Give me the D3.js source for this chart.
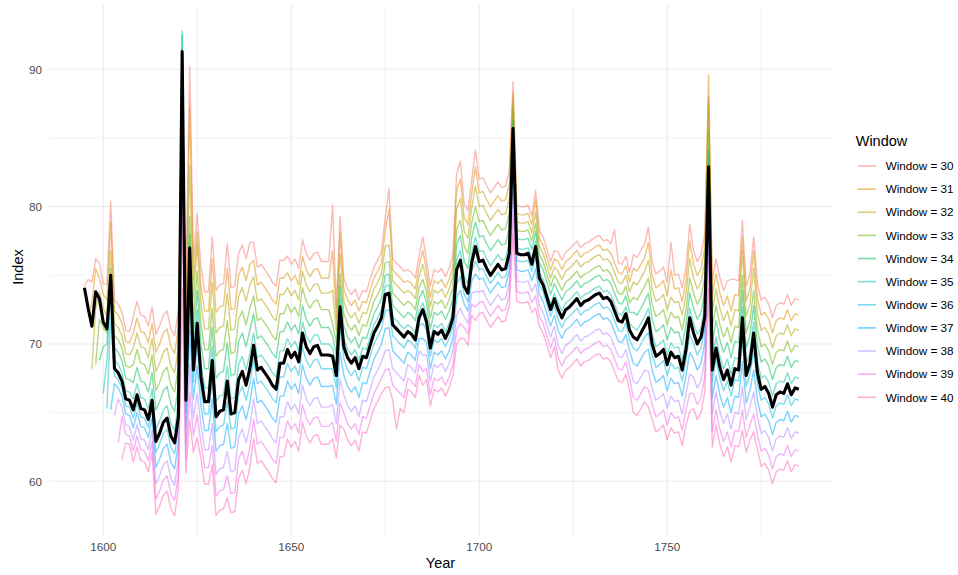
<!DOCTYPE html>
<html lang="en">
<head>
<meta charset="utf-8">
<title>Index by window</title>
<script src="https://cdn.jsdelivr.net/npm/d3@7"></script>
<style>
  body { margin: 0; background: #fff; }
  text { font-family: "Liberation Sans", Arial, Helvetica, sans-serif; }
  .grid-major { stroke: #ebebeb; stroke-width: 1.1px; }
  .grid-minor { stroke: #ebebeb; stroke-width: 0.6px; }
  .tick-label { fill: #4d4d4d; font-size: 11.7px; }
  .axis-title { fill: #000; font-size: 14.5px; }
</style>
</head>
<body>
<svg id="chart" width="958" height="575"></svg>
<script>
// ---- data ----
var windows = [30, 31, 32, 33, 34, 35, 36, 37, 38, 39, 40];
var startYears = [1595, 1596, 1597, 1598, 1599, 1600, 1601, 1602, 1603, 1604, 1605];
var windowColors = ["#F8766D", "#DB8E00", "#AEA200", "#64B200", "#00BD5C", "#00C1A7",
                    "#00BADE", "#00A6FF", "#B385FF", "#EF67EB", "#FF63B6"];

var xMajorTicks = [1600, 1650, 1700, 1750];
var xMinorTicks = [1625, 1675, 1725, 1775];
var yMajorTicks = [60, 70, 80, 90];
var yMinorTicks = [65, 75, 85];

// black line, 1595-1785
var overallStart = 1595;
var overall = [74.1,72.6,71.3,73.8,73.3,
  71.6,71.1,75.0,68.2,67.9,67.3,66.0,65.9,65.2,66.3,
  65.3,65.2,64.5,65.9,62.9,63.5,64.3,64.6,63.3,62.8,
  64.7,91.3,65.9,77.0,68.1,71.5,67.6,65.8,65.8,68.8,
  64.7,65.1,65.2,67.3,64.9,65.0,67.4,68.0,67.0,68.2,
  69.9,68.1,68.3,67.9,67.5,67.0,66.7,68.6,68.6,69.6,
  69.0,69.4,68.7,70.8,69.8,69.3,69.8,69.9,69.2,69.2,
  69.2,69.1,67.7,72.7,69.8,69.0,68.6,69.0,68.2,69.1,
  69.0,69.9,70.8,71.3,71.9,73.6,73.7,71.4,71.1,70.8,
  70.5,70.9,70.7,70.3,71.9,72.5,71.6,69.7,70.9,70.7,
  71.0,70.4,71.0,71.9,75.4,76.1,74.2,73.7,75.9,77.1,
  76.0,76.1,75.5,75.0,75.4,75.8,75.4,75.5,76.6,85.7,
  76.6,76.5,76.5,76.6,75.8,77.1,74.8,74.3,73.4,72.5,
  73.3,72.5,71.9,72.5,72.7,73.0,73.3,72.8,73.1,73.2,
  73.4,73.6,73.7,73.3,73.4,73.1,72.4,71.7,71.6,72.2,
  71.0,70.5,70.3,70.8,71.3,71.9,70.0,69.1,69.3,69.6,
  68.5,69.4,69.0,69.1,68.1,69.6,71.9,70.8,70.0,70.5,
  72.0,82.9,68.1,69.7,68.3,67.4,68.1,67.0,68.2,68.1,
  71.9,67.7,68.6,70.8,67.9,66.7,66.9,66.4,65.4,66.3,
  66.5,66.4,67.1,66.3,66.8,66.7];

var w30 = [74.2,74.7,74.5,76.2,75.9,
  74.4,74.3,80.4,73.2,72.9,72.3,71.0,70.9,72.0,73.1,
  72.1,72.0,71.3,72.7,70.7,71.3,72.1,72.4,71.1,70.6,
  72.5,86.0,73.7,90.2,76.1,79.5,75.6,73.8,73.8,77.8,
  73.9,74.3,74.4,77.3,74.1,74.2,76.6,77.2,76.2,77.4,
  77.4,75.6,75.8,75.4,75.0,74.5,74.2,76.1,76.1,76.4,
  75.8,76.2,75.5,77.6,76.6,76.1,76.6,76.7,76.0,76.0,
  76.0,80.1,72.7,79.3,74.8,74.0,73.6,74.0,73.2,73.9,
  73.8,74.7,75.6,76.1,76.7,79.2,81.3,76.2,75.9,75.6,
  75.3,75.4,75.2,74.8,76.4,77.8,76.1,74.2,75.4,75.2,
  75.5,74.9,75.5,76.4,82.4,83.3,80.2,79.7,81.9,84.1,
  82.0,82.1,81.5,81.0,81.4,81.8,81.4,81.5,82.6,89.1,
  80.1,80.0,80.0,80.1,79.3,81.2,78.3,77.8,76.9,76.0,
  76.8,76.7,76.1,76.7,76.9,77.2,77.5,77.0,77.3,77.4,
  77.6,77.8,77.9,77.5,77.6,77.3,78.3,75.9,75.8,76.4,
  75.2,76.5,76.3,76.8,77.3,78.5,76.0,75.1,75.3,75.6,
  74.5,77.4,75.0,75.1,74.1,75.6,78.7,76.8,76.0,76.5,
  78.0,88.0,74.6,76.2,74.8,73.9,74.6,74.7,74.7,74.6,
  79.0,74.2,75.1,77.8,74.4,73.2,73.4,72.9,71.9,72.8,
  73.0,72.9,73.6,72.8,73.3,73.2];

var w31 = [72.0,73.0,75.5,74.8,
  73.6,73.2,78.9,72.4,72.1,71.5,70.2,70.1,70.8,71.9,
  70.9,70.8,70.1,71.5,69.4,70.0,70.8,71.1,69.8,69.3,
  71.2,88.0,72.4,87.3,74.7,78.2,74.2,72.4,72.4,76.2,
  72.3,72.7,72.8,75.5,72.5,72.6,75.0,75.6,74.6,75.8,
  76.1,74.3,74.5,74.1,73.7,73.2,72.9,74.8,74.8,75.2,
  74.6,75.0,74.3,76.4,75.4,74.9,75.4,75.5,74.8,74.8,
  74.8,76.8,71.9,78.1,74.0,73.2,72.8,73.2,72.4,73.1,
  73.0,73.9,74.8,75.3,75.9,78.2,79.8,75.4,75.1,74.8,
  74.5,74.6,74.4,74.0,75.6,76.8,75.3,73.4,74.6,74.4,
  74.7,74.1,74.7,75.6,81.2,82.0,79.2,78.7,80.9,82.9,
  81.0,81.1,80.5,80.0,80.4,80.8,80.4,80.5,81.6,88.3,
  79.5,79.4,79.4,79.5,78.7,80.5,77.7,77.2,76.3,75.4,
  76.2,76.0,75.4,76.0,76.2,76.5,76.8,76.3,76.6,76.7,
  76.9,77.1,77.2,76.8,76.9,76.6,75.9,75.2,75.1,75.7,
  74.5,75.5,75.3,75.8,76.3,77.4,75.0,74.1,74.3,74.6,
  73.5,75.4,74.0,74.1,73.1,74.6,77.5,75.8,75.0,75.5,
  77.0,89.6,73.5,75.1,73.7,72.8,73.5,72.4,73.6,73.5,
  77.8,73.1,74.0,76.8,73.3,72.1,72.3,71.8,70.8,71.7,
  71.9,71.8,72.5,71.7,72.2,72.1];

var w32 = [68.2,72.6,73.8,
  72.6,72.0,76.8,71.5,71.2,70.6,69.3,69.2,69.7,70.8,
  69.8,69.7,69.0,70.4,68.0,68.6,69.4,69.7,68.4,67.9,
  69.8,90.0,71.0,83.0,73.4,77.3,72.9,71.1,71.1,74.5,
  70.8,71.2,71.3,73.7,71.0,71.1,73.5,74.1,73.1,74.3,
  74.9,73.1,73.3,72.9,72.5,72.0,71.7,73.6,73.6,74.1,
  73.5,73.9,73.2,75.3,74.3,73.8,74.3,74.4,73.7,73.7,
  73.7,73.9,71.0,76.6,73.1,72.3,71.9,72.3,71.5,72.3,
  72.2,73.1,74.0,74.5,75.1,77.1,77.2,74.6,74.3,74.0,
  73.7,73.9,73.7,73.3,74.9,75.8,74.6,72.7,73.9,73.7,
  74.0,73.4,74.0,74.9,79.8,80.6,78.2,77.7,79.9,81.5,
  80.0,80.1,79.5,79.0,79.4,79.8,79.4,79.5,80.6,87.8,
  78.9,78.8,78.8,78.9,78.1,79.6,77.1,76.6,75.7,74.8,
  75.6,75.3,74.7,75.3,75.5,75.8,76.1,75.6,75.9,76.0,
  76.2,76.4,76.5,76.1,76.2,75.9,75.2,74.5,74.4,75.0,
  73.8,74.5,74.3,74.8,75.3,76.1,74.0,73.1,73.3,73.6,
  72.5,73.4,73.0,73.1,72.1,73.6,76.2,74.8,74.0,74.5,
  76.0,87.5,72.4,74.0,72.6,71.7,72.4,71.3,72.5,72.4,
  76.8,72.0,72.9,75.5,72.2,71.0,71.2,70.7,69.7,70.6,
  70.8,70.7,71.4,70.6,71.1,71.0];

var w33 = [68.5,71.8,
  71.2,70.8,75.5,70.6,70.3,69.7,68.4,68.3,68.5,69.6,
  68.6,68.5,67.8,69.2,66.6,67.2,68.0,68.3,67.0,66.5,
  68.4,91.5,69.6,79.3,71.9,75.3,71.4,69.6,69.6,72.6,
  69.1,69.5,69.6,71.7,69.3,69.4,71.8,72.4,71.4,72.6,
  73.5,71.7,71.9,71.5,71.1,70.6,70.3,72.2,72.2,72.9,
  72.3,72.7,72.0,74.1,73.1,72.6,73.1,73.2,72.5,72.5,
  72.5,71.5,70.1,75.1,72.2,71.4,71.0,71.4,70.6,71.4,
  71.3,72.2,73.1,73.6,74.2,75.9,76.0,73.7,73.4,73.1,
  72.8,73.1,72.9,72.5,74.1,74.7,73.8,71.9,73.1,72.9,
  73.2,72.6,73.2,74.1,78.3,79.0,77.1,76.6,78.8,80.0,
  78.9,79.0,78.4,77.9,78.3,78.7,78.3,78.4,79.5,87.0,
  78.3,78.2,78.2,78.3,77.5,78.8,76.5,76.0,75.1,74.2,
  75.0,74.5,73.9,74.5,74.7,75.0,75.3,74.8,75.1,75.2,
  75.4,75.6,75.7,75.3,75.4,75.1,74.4,73.7,73.6,74.2,
  73.0,73.4,73.2,73.7,74.2,74.8,72.9,72.0,72.2,72.5,
  71.4,72.3,71.9,72.0,71.0,72.5,74.8,73.7,72.9,73.4,
  74.9,85.5,71.2,72.8,71.4,70.5,71.2,70.1,71.3,71.2,
  75.0,70.8,71.7,73.9,71.0,69.8,70.0,69.5,68.5,69.4,
  69.6,69.5,70.2,69.4,69.9,69.8];

var w34 = [68.8,
  69.8,70.0,74.8,69.7,69.4,68.8,67.5,67.4,67.2,68.3,
  67.3,67.2,66.5,67.9,65.2,65.8,66.6,66.9,65.6,65.1,
  67.0,92.5,68.2,78.0,70.5,73.9,70.0,68.2,68.2,71.2,
  67.5,67.9,68.0,70.1,67.7,67.8,70.2,70.8,69.8,71.0,
  72.2,70.4,70.6,70.2,69.8,69.3,69.0,70.9,70.9,71.6,
  71.0,71.4,70.7,72.8,71.8,71.3,71.8,71.9,71.2,71.2,
  71.2,70.6,69.2,74.2,71.3,70.5,70.1,70.5,69.7,70.5,
  70.4,71.3,72.2,72.7,73.3,75.0,75.1,72.8,72.5,72.2,
  71.9,72.3,72.1,71.7,73.3,73.9,73.0,71.1,72.3,72.1,
  72.4,71.8,72.4,73.3,77.2,77.9,76.0,75.5,77.7,78.9,
  77.8,77.9,77.3,76.8,77.2,77.6,77.2,77.3,78.4,86.3,
  77.7,77.6,77.6,77.7,76.9,78.2,75.9,75.4,74.5,73.6,
  74.4,73.8,73.2,73.8,74.0,74.3,74.6,74.1,74.4,74.5,
  74.7,74.9,75.0,74.6,74.7,74.4,73.7,73.0,72.9,73.5,
  72.3,72.3,72.1,72.6,73.1,73.7,71.8,70.9,71.1,71.4,
  70.3,71.2,70.8,70.9,69.9,71.4,73.7,72.6,71.8,72.3,
  73.8,84.1,70.1,71.7,70.3,69.4,70.1,69.0,70.2,70.1,
  73.9,69.7,70.6,72.8,69.9,68.7,68.9,68.4,67.4,68.3,
  68.5,68.4,69.1,68.3,68.8,68.7];

var w35 = [66.4,68.8,73.8,68.8,68.5,67.9,66.6,66.5,66.0,67.1,
  66.1,66.0,65.3,66.7,63.8,64.4,65.2,65.5,64.2,63.7,
  65.6,92.8,66.8,76.5,69.1,72.5,68.6,66.8,66.8,69.8,
  65.8,66.2,66.3,68.4,66.0,66.1,68.5,69.1,68.1,69.3,
  70.8,69.0,69.2,68.8,68.4,67.9,67.6,69.5,69.5,70.4,
  69.8,70.2,69.5,71.6,70.6,70.1,70.6,70.7,70.0,70.0,
  70.0,69.7,68.3,73.3,70.4,69.6,69.2,69.6,68.8,69.7,
  69.6,70.5,71.4,71.9,72.5,74.2,74.3,72.0,71.7,71.4,
  71.1,71.4,71.2,70.8,72.4,73.0,72.1,70.2,71.4,71.2,
  71.5,70.9,71.5,72.4,76.1,76.8,74.9,74.4,76.6,77.8,
  76.7,76.8,76.2,75.7,76.1,76.5,76.1,76.2,77.3,85.8,
  77.0,76.9,76.9,77.0,76.2,77.5,75.2,74.7,73.8,72.9,
  73.7,73.0,72.4,73.0,73.2,73.5,73.8,73.3,73.6,73.7,
  73.9,74.1,74.2,73.8,73.9,73.6,72.9,72.2,72.1,72.7,
  71.5,71.2,71.0,71.5,72.0,72.6,70.7,69.8,70.0,70.3,
  69.2,70.1,69.7,69.8,68.8,70.3,72.6,71.5,70.7,71.2,
  72.7,83.5,68.9,70.5,69.1,68.2,68.9,67.8,69.0,68.9,
  72.7,68.5,69.4,71.6,68.7,67.5,67.7,67.2,66.2,67.1,
  67.3,67.2,67.9,67.1,67.6,67.5];

var w36 = [65.3,72.0,67.7,67.4,66.8,65.5,65.4,64.6,65.7,
  64.7,64.6,63.9,65.3,62.1,62.7,63.5,63.8,62.5,62.0,
  63.9,90.5,65.1,73.5,67.2,69.9,66.7,64.9,64.9,67.4,
  63.6,64.0,64.1,65.8,63.8,63.9,66.3,66.9,65.9,67.1,
  68.9,67.1,67.3,66.9,66.5,66.0,65.7,67.6,67.6,68.6,
  68.0,68.4,67.7,69.8,68.8,68.3,68.8,68.9,68.2,68.2,
  68.2,68.2,66.8,71.0,68.9,68.1,67.7,68.1,67.3,68.3,
  68.2,69.1,70.0,70.5,71.1,72.4,72.5,70.6,70.3,70.0,
  69.7,70.3,70.1,69.7,71.3,71.5,71.0,69.1,70.3,70.1,
  70.4,69.8,70.4,71.3,74.3,74.9,73.6,73.1,75.3,76.0,
  75.4,75.5,74.9,74.4,74.8,75.2,74.8,74.9,76.0,84.0,
  76.1,76.0,76.0,76.1,75.3,76.3,74.3,73.8,72.9,72.0,
  72.8,71.8,71.2,71.8,72.0,72.3,72.6,72.1,72.4,72.5,
  72.7,72.9,73.0,72.6,72.7,72.4,71.7,71.0,70.9,71.5,
  70.3,69.7,69.5,70.0,70.5,70.8,69.2,68.3,68.5,68.8,
  67.7,68.6,68.2,68.3,67.3,68.8,70.7,70.0,69.2,69.7,
  71.2,81.5,67.3,68.9,67.5,66.6,67.3,66.2,67.4,67.3,
  70.3,66.9,67.8,69.5,67.1,65.9,66.1,65.6,64.6,65.5,
  65.7,65.6,66.3,65.5,66.0,65.9];

var w37 = [65.2,67.1,66.8,66.2,64.9,64.8,63.9,65.0,
  64.0,63.9,63.2,64.6,61.0,61.6,62.4,62.7,61.4,60.9,
  62.8,88.5,64.0,71.0,66.0,68.4,65.5,63.7,63.7,66.0,
  62.2,62.6,62.7,64.2,62.4,62.5,64.9,65.5,64.5,65.7,
  67.5,65.7,65.9,65.5,65.1,64.6,64.3,66.2,66.2,67.3,
  66.7,67.1,66.4,68.5,67.5,67.0,67.5,67.6,66.9,66.9,
  66.9,67.0,65.6,69.4,67.7,66.9,66.5,66.9,66.1,67.2,
  67.1,68.0,68.9,69.4,70.0,71.1,71.2,69.5,69.2,68.9,
  68.6,69.4,69.2,68.8,70.4,70.4,70.1,68.2,69.4,69.2,
  69.5,68.9,69.5,70.4,73.4,73.9,72.9,72.4,74.6,75.1,
  74.7,74.8,74.2,73.7,74.1,74.5,74.1,74.2,75.3,82.5,
  75.4,75.3,75.3,75.4,74.6,75.5,73.6,73.1,72.2,71.3,
  72.1,71.0,70.4,71.0,71.2,71.5,71.8,71.3,71.6,71.7,
  71.9,72.1,72.2,71.8,71.9,71.6,70.9,70.2,70.1,70.7,
  69.5,68.6,68.4,68.9,69.4,69.6,68.1,67.2,67.4,67.7,
  66.6,67.5,67.1,67.2,66.2,67.7,69.4,68.9,68.1,68.6,
  70.1,80.0,66.1,67.7,66.3,65.4,66.1,65.0,66.2,66.1,
  68.7,65.7,66.6,68.1,65.9,64.7,64.9,64.4,63.4,64.3,
  64.5,64.4,65.1,64.3,64.8,64.7];

var w38 = [64.8,66.0,65.4,64.1,64.0,63.0,64.1,
  63.1,63.0,62.3,63.7,59.8,60.4,61.2,61.5,60.2,59.7,
  61.6,85.0,62.8,68.5,64.6,66.4,64.1,62.3,62.3,64.2,
  60.5,60.9,61.0,62.2,60.7,60.8,63.2,63.8,62.8,64.0,
  66.0,64.2,64.4,64.0,63.6,63.1,62.8,64.7,64.7,65.8,
  65.2,65.6,64.9,67.0,66.0,65.5,66.0,66.1,65.4,65.4,
  65.4,65.6,64.2,67.4,66.3,65.5,65.1,65.5,64.7,65.9,
  65.8,66.7,67.6,68.1,68.7,69.5,69.6,68.2,67.9,67.6,
  67.3,68.5,68.3,67.9,69.5,69.2,69.2,67.3,68.5,68.3,
  68.6,68.0,68.6,69.5,72.1,72.6,72.0,71.5,73.7,73.8,
  73.8,73.9,73.3,72.8,73.2,73.6,73.2,73.3,74.4,81.0,
  74.6,74.5,74.5,74.6,73.8,74.4,72.8,72.3,71.4,70.5,
  71.3,69.9,69.3,69.9,70.1,70.4,70.7,70.2,70.5,70.6,
  70.8,71.0,71.1,70.7,70.8,70.5,69.8,69.1,69.0,69.6,
  68.4,67.3,67.1,67.6,68.1,68.0,66.8,65.9,66.1,66.4,
  65.3,66.2,65.8,65.9,64.9,66.4,67.8,67.6,66.8,67.3,
  68.8,78.0,64.9,66.5,65.1,64.2,64.9,63.8,65.0,64.9,
  66.9,64.5,65.4,66.5,64.7,63.5,63.7,63.2,62.2,63.1,
  63.3,63.2,63.9,63.1,63.6,63.5];

var w39 = [62.8,64.7,63.4,63.3,62.2,63.3,
  62.3,62.2,61.5,62.9,58.7,59.3,60.1,60.4,59.1,58.6,
  60.5,80.0,61.7,66.5,63.3,64.8,62.8,61.0,61.0,62.6,
  58.9,59.3,59.4,60.4,59.1,59.2,61.6,62.2,61.2,62.4,
  64.5,62.7,62.9,62.5,62.1,61.6,61.3,63.2,63.2,64.4,
  63.8,64.2,63.5,65.6,64.6,64.1,64.6,64.7,64.0,64.0,
  64.0,64.3,62.9,65.7,65.0,64.2,63.8,64.2,63.4,64.7,
  64.6,65.5,66.4,66.9,67.5,68.1,68.2,67.0,66.7,66.4,
  66.1,67.5,67.3,66.9,68.5,68.0,68.2,66.3,67.5,67.3,
  67.6,67.0,67.6,68.5,71.0,71.5,71.2,70.7,72.9,72.7,
  73.0,73.1,72.5,72.0,72.4,72.8,72.4,72.5,73.6,79.5,
  73.8,73.7,73.7,73.8,73.0,73.5,72.0,71.5,70.6,69.7,
  70.5,69.0,68.4,69.0,69.2,69.5,69.8,69.3,69.6,69.7,
  69.9,70.1,70.2,69.8,69.9,69.6,68.9,68.2,68.1,68.7,
  67.5,66.1,65.9,66.4,66.9,66.7,65.6,64.7,64.9,65.2,
  64.1,65.0,64.6,64.7,63.7,65.2,66.4,66.4,65.6,66.1,
  67.6,76.0,63.6,65.2,63.8,62.9,63.6,62.5,63.7,63.6,
  65.2,63.2,64.1,64.9,63.4,62.2,62.4,61.9,60.9,61.8,
  62.0,61.9,62.6,61.8,62.3,62.2];

var w40 = [61.6,62.8,62.7,61.4,62.5,
  61.5,61.4,60.7,62.1,57.6,58.2,59.0,59.3,58.0,57.5,
  59.4,74.0,60.6,64.5,62.1,63.2,61.6,59.8,59.8,61.2,
  57.5,57.9,58.0,58.8,57.7,57.8,60.2,60.8,59.8,61.0,
  63.1,61.3,61.5,61.1,60.7,60.2,59.9,61.8,61.8,63.1,
  62.5,62.9,62.2,64.3,63.3,62.8,63.3,63.4,62.7,62.7,
  62.7,63.1,61.7,64.1,63.8,63.0,62.6,63.0,62.2,63.6,
  63.5,64.4,65.3,65.8,66.4,66.8,66.9,65.9,63.8,65.3,
  65.0,66.7,66.5,66.1,67.7,67.0,67.4,65.5,66.7,66.5,
  66.8,66.2,66.8,67.7,70.0,70.4,70.4,69.9,72.1,71.7,
  72.2,72.3,71.7,71.2,71.6,72.0,71.6,71.7,72.8,78.0,
  73.1,73.0,73.0,73.1,72.3,72.6,71.3,70.8,69.9,69.0,
  69.8,68.1,67.5,68.1,68.3,68.6,68.9,68.4,68.7,68.8,
  69.0,69.2,69.3,68.9,69.0,68.7,68.0,67.3,67.2,67.8,
  66.6,65.0,64.8,65.3,65.8,65.4,64.5,63.6,63.8,64.1,
  63.0,63.9,63.5,63.6,62.6,64.1,65.1,65.3,64.5,65.0,
  66.5,74.0,62.5,64.1,62.7,61.8,62.5,61.4,62.6,62.5,
  63.7,62.1,63.0,63.6,62.3,61.1,61.3,60.8,59.8,60.7,
  60.9,60.8,61.5,60.7,61.2,61.1];

var windowValues = [w30, w31, w32, w33, w34, w35, w36, w37, w38, w39, w40];

// ---- layout ----
var panel = {left: 49, right: 832, top: 5, bottom: 536};

var svg = d3.select("#chart");

var xScale = d3.scaleLinear()
    .domain([1600, 1750])
    .range([103.2, 667.2]);

var yScale = d3.scaleLinear()
    .domain([60, 90])
    .range([481.3, 69.3]);

var grid = svg.append("g");

grid.selectAll(".gx-minor")
    .data(xMinorTicks)
  .enter().append("line")
    .attr("class", "grid-minor")
    .attr("x1", function(d) { return xScale(d); })
    .attr("x2", function(d) { return xScale(d); })
    .attr("y1", panel.top)
    .attr("y2", panel.bottom);

grid.selectAll(".gy-minor")
    .data(yMinorTicks)
  .enter().append("line")
    .attr("class", "grid-minor")
    .attr("x1", panel.left)
    .attr("x2", panel.right)
    .attr("y1", function(d) { return yScale(d); })
    .attr("y2", function(d) { return yScale(d); });

grid.selectAll(".gx-major")
    .data(xMajorTicks)
  .enter().append("line")
    .attr("class", "grid-major")
    .attr("x1", function(d) { return xScale(d); })
    .attr("x2", function(d) { return xScale(d); })
    .attr("y1", panel.top)
    .attr("y2", panel.bottom);

grid.selectAll(".gy-major")
    .data(yMajorTicks)
  .enter().append("line")
    .attr("class", "grid-major")
    .attr("x1", panel.left)
    .attr("x2", panel.right)
    .attr("y1", function(d) { return yScale(d); })
    .attr("y2", function(d) { return yScale(d); });

// tick labels
svg.append("g").selectAll("text")
    .data(xMajorTicks)
  .enter().append("text")
    .attr("class", "tick-label")
    .attr("x", function(d) { return xScale(d); })
    .attr("y", 551)
    .attr("text-anchor", "middle")
    .text(function(d) { return d; });

svg.append("g").selectAll("text")
    .data(yMajorTicks)
  .enter().append("text")
    .attr("class", "tick-label")
    .attr("x", 42)
    .attr("y", function(d) { return yScale(d); })
    .attr("dy", "0.36em")
    .attr("text-anchor", "end")
    .text(function(d) { return d; });

// axis titles
svg.append("text")
    .attr("class", "axis-title")
    .attr("x", (panel.left + panel.right) / 2)
    .attr("y", 568)
    .attr("text-anchor", "middle")
    .text("Year");

svg.append("text")
    .attr("class", "axis-title")
    .attr("transform", "translate(22.5,267) rotate(-90)")
    .attr("text-anchor", "middle")
    .text("Index");

// lines
var line = d3.line()
    .x(function(d) { return xScale(d.year); })
    .y(function(d) { return yScale(d.value); });

var series = windows.map(function(w, i) {
    return {
        window: w,
        color: windowColors[i],
        values: windowValues[i].map(function(v, j) { return {year: startYears[i] + j, value: v}; })
    };
});

svg.append("g").selectAll("path")
    .data(series)
  .enter().append("path")
    .attr("fill", "none")
    .attr("stroke", function(d) { return d.color; })
    .attr("stroke-opacity", 0.5)
    .attr("stroke-width", 1.4)
    .attr("stroke-linejoin", "round")
    .attr("d", function(d) { return line(d.values); });

svg.append("path")
    .datum(overall.map(function(v, j) { return {year: overallStart + j, value: v}; }))
    .attr("fill", "none")
    .attr("stroke", "#000")
    .attr("stroke-width", 3.1)
    .attr("stroke-linejoin", "round")
    .attr("d", line);

// legend
var legend = svg.append("g").attr("transform", "translate(855.7,0)");

legend.append("text")
    .attr("class", "axis-title")
    .attr("x", 0)
    .attr("y", 146)
    .text("Window");

var item = legend.selectAll(".item")
    .data(series)
  .enter().append("g")
    .attr("class", "item")
    .attr("transform", function(d, i) { return "translate(0," + (166 + i * 23.13) + ")"; });

item.append("line")
    .attr("x1", 2)
    .attr("x2", 20.3)
    .attr("stroke", function(d) { return d.color; })
    .attr("stroke-opacity", 0.5)
    .attr("stroke-width", 1.7);

item.append("text")
    .attr("class", "tick-label")
    .attr("x", 30)
    .attr("dy", "0.36em")
    .style("fill", "#000")
    .text(function(d) { return "Window = " + d.window; });
</script>
</body>
</html>
